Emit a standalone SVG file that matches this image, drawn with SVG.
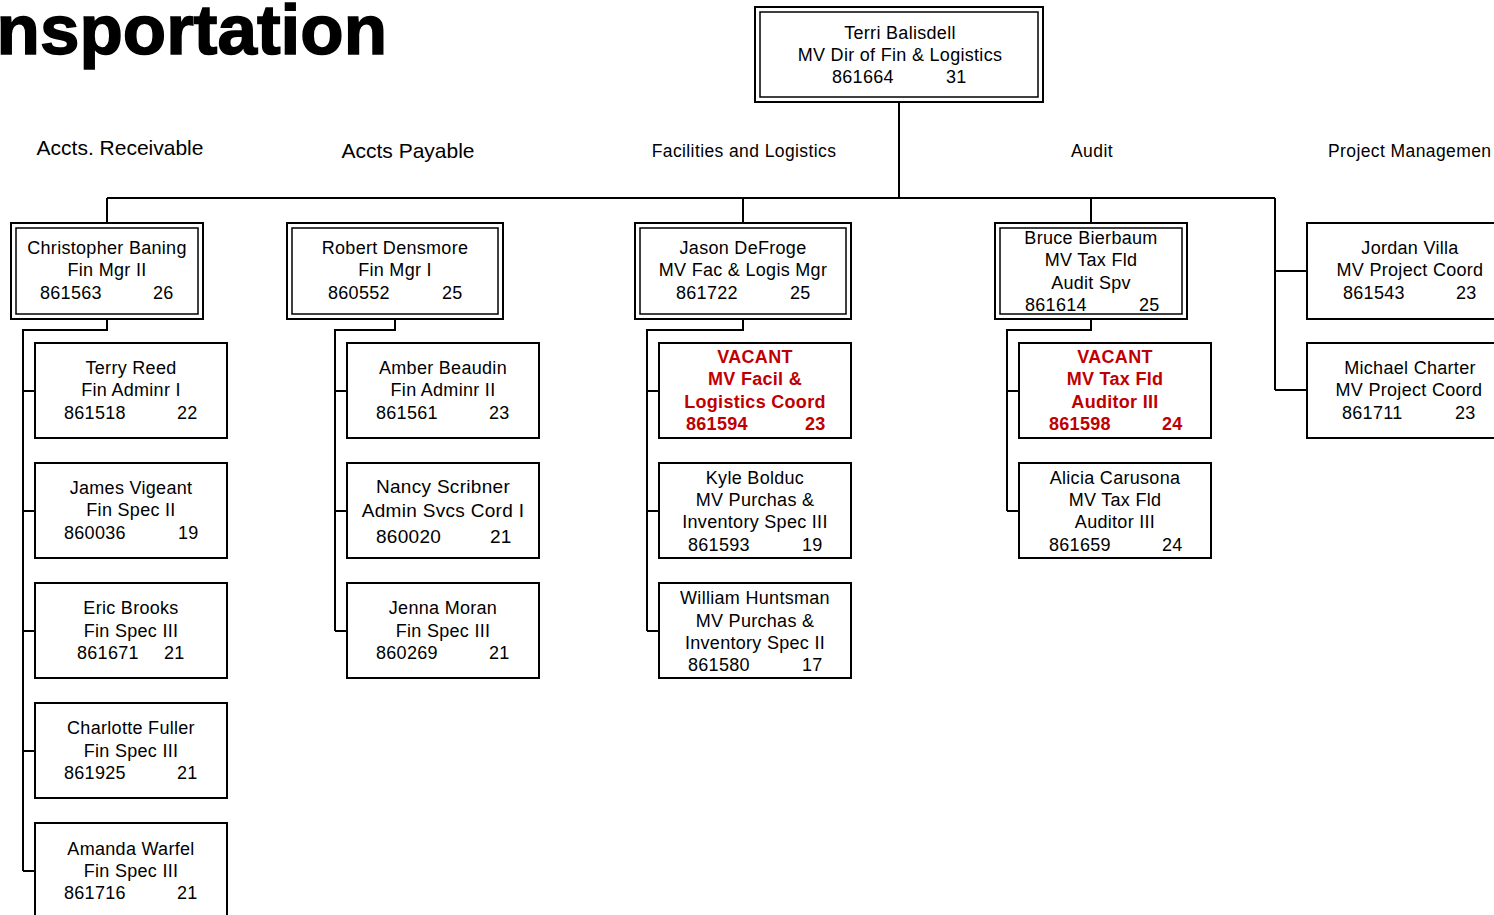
<svg xmlns="http://www.w3.org/2000/svg" width="1494" height="915" viewBox="0 0 1494 915">
<style>
text{font-family:"Liberation Sans",Arial,sans-serif;fill:#000}
.t{font-size:18px;letter-spacing:0.3px;text-anchor:middle}
.n{font-size:18px;letter-spacing:0.3px}
.v{font-size:18px;font-weight:bold;fill:#c00000;letter-spacing:0.3px}
.vc{text-anchor:middle}
.box{fill:#fff;stroke:#000;stroke-width:2}
.inner{fill:none;stroke:#000;stroke-width:1.5}
.hd{font-size:17.5px;letter-spacing:0.4px;text-anchor:middle}
.hb{font-size:21px;text-anchor:middle}
.c{fill:none;stroke:#000;stroke-width:2}
</style>
<rect width="1494" height="915" fill="#fff"/>
<text x="387" y="54" style="font-size:71px;font-weight:bold;text-anchor:end;stroke:#000;stroke-width:1.5">nsportation</text>
<text class="hb" x="120" y="155">Accts. Receivable</text>
<text class="hb" x="408" y="158">Accts Payable</text>
<text class="hd" x="744" y="157">Facilities and Logistics</text>
<text class="hd" x="1092" y="157">Audit</text>
<text class="hd" x="1328" y="157" style="text-anchor:start">Project Managemen</text>
<g id="connectors">
<path class="c" d="M899 102V198M107 198H1275M107 198V222M743 198V222M1091 198V222M1275 198V390M1275 271H1307M1275 390H1307"/>
<path class="c" d="M107 319V330H23V871M23 391H35M23 511H35M23 631H35M23 751H35M23 871H35"/>
<path class="c" d="M395 319V330H335V631M335 391H347M335 511H347M335 631H347"/>
<path class="c" d="M743 319V330H647V631M647 391H659M647 511H659M647 631H659"/>
<path class="c" d="M1091 319V330H1007V511M1007 391H1019M1007 511H1019"/>
</g>
<g id="terri"><rect class="box" x="755" y="7" width="288" height="95"/><rect class="inner" x="760" y="12" width="278" height="85"/>
<text class="t" x="900" y="39">Terri Balisdell</text><text class="t" x="900" y="61">MV Dir of Fin &amp; Logistics</text><text class="n" y="83"><tspan x="832">861664</tspan><tspan x="946">31</tspan></text></g>
<g id="christopher"><rect class="box" x="11" y="223" width="192" height="96"/><rect class="inner" x="16" y="228" width="182" height="86"/>
<text class="t" x="107" y="254">Christopher Baning</text><text class="t" x="107" y="276">Fin Mgr II</text><text class="n" y="299"><tspan x="40">861563</tspan><tspan x="153">26</tspan></text></g>
<g id="terry"><rect class="box" x="35" y="343" width="192" height="95"/>
<text class="t" x="131" y="374">Terry Reed</text><text class="t" x="131" y="396">Fin Adminr I</text><text class="n" y="419"><tspan x="64">861518</tspan><tspan x="177">22</tspan></text></g>
<g id="james"><rect class="box" x="35" y="463" width="192" height="95"/>
<text class="t" x="131" y="494">James Vigeant</text><text class="t" x="131" y="516">Fin Spec II</text><text class="n" y="539"><tspan x="64">860036</tspan><tspan x="178">19</tspan></text></g>
<g id="eric"><rect class="box" x="35" y="583" width="192" height="95"/>
<text class="t" x="131" y="614">Eric Brooks</text><text class="t" x="131" y="637">Fin Spec III</text><text class="n" y="659"><tspan x="77">861671</tspan><tspan x="164">21</tspan></text></g>
<g id="charlotte"><rect class="box" x="35" y="703" width="192" height="95"/>
<text class="t" x="131" y="734">Charlotte Fuller</text><text class="t" x="131" y="757">Fin Spec III</text><text class="n" y="779"><tspan x="64">861925</tspan><tspan x="177">21</tspan></text></g>
<g id="amanda"><rect class="box" x="35" y="823" width="192" height="100"/>
<text class="t" x="131" y="855">Amanda Warfel</text><text class="t" x="131" y="877">Fin Spec III</text><text class="n" y="899"><tspan x="64">861716</tspan><tspan x="177">21</tspan></text></g>
<g id="robert"><rect class="box" x="287" y="223" width="216" height="96"/><rect class="inner" x="292" y="228" width="206" height="86"/>
<text class="t" x="395" y="254">Robert Densmore</text><text class="t" x="395" y="276">Fin Mgr I</text><text class="n" y="299"><tspan x="328">860552</tspan><tspan x="442">25</tspan></text></g>
<g id="amber"><rect class="box" x="347" y="343" width="192" height="95"/>
<text class="t" x="443" y="374">Amber Beaudin</text><text class="t" x="443" y="396">Fin Adminr II</text><text class="n" y="419"><tspan x="376">861561</tspan><tspan x="489">23</tspan></text></g>
<g id="nancy"><rect class="box" x="347" y="463" width="192" height="95"/>
<text class="t" x="443" y="493" style="font-size:19px">Nancy Scribner</text><text class="t" x="443" y="517" style="font-size:19px">Admin Svcs Cord I</text><text class="n" y="543" style="font-size:19px"><tspan x="376">860020</tspan><tspan x="490">21</tspan></text></g>
<g id="jenna"><rect class="box" x="347" y="583" width="192" height="95"/>
<text class="t" x="443" y="614">Jenna Moran</text><text class="t" x="443" y="637">Fin Spec III</text><text class="n" y="659"><tspan x="376">860269</tspan><tspan x="489">21</tspan></text></g>
<g id="jason"><rect class="box" x="635" y="223" width="216" height="96"/><rect class="inner" x="640" y="228" width="206" height="86"/>
<text class="t" x="743" y="254">Jason DeFroge</text><text class="t" x="743" y="276">MV Fac &amp; Logis Mgr</text><text class="n" y="299"><tspan x="676">861722</tspan><tspan x="790">25</tspan></text></g>
<g id="vacant-facil"><rect class="box" x="659" y="343" width="192" height="95"/>
<text class="v vc" x="755" y="363">VACANT</text><text class="v vc" x="755" y="385">MV Facil &amp;</text><text class="v vc" x="755" y="408">Logistics Coord</text><text class="v" y="430"><tspan x="686">861594</tspan><tspan x="805">23</tspan></text></g>
<g id="kyle"><rect class="box" x="659" y="463" width="192" height="95"/>
<text class="t" x="755" y="484">Kyle Bolduc</text><text class="t" x="755" y="506">MV Purchas &amp;</text><text class="t" x="755" y="528">Inventory Spec III</text><text class="n" y="551"><tspan x="688">861593</tspan><tspan x="802">19</tspan></text></g>
<g id="william"><rect class="box" x="659" y="583" width="192" height="95"/>
<text class="t" x="755" y="604">William Huntsman</text><text class="t" x="755" y="627">MV Purchas &amp;</text><text class="t" x="755" y="649">Inventory Spec II</text><text class="n" y="671"><tspan x="688">861580</tspan><tspan x="802">17</tspan></text></g>
<g id="bruce"><rect class="box" x="995" y="223" width="192" height="96"/><rect class="inner" x="1000" y="228" width="182" height="86"/>
<text class="t" x="1091" y="244">Bruce Bierbaum</text><text class="t" x="1091" y="266">MV Tax Fld</text><text class="t" x="1091" y="289">Audit Spv</text><text class="n" y="311"><tspan x="1025">861614</tspan><tspan x="1139">25</tspan></text></g>
<g id="vacant-tax"><rect class="box" x="1019" y="343" width="192" height="95"/>
<text class="v vc" x="1115" y="363">VACANT</text><text class="v vc" x="1115" y="385">MV Tax Fld</text><text class="v vc" x="1115" y="408">Auditor III</text><text class="v" y="430"><tspan x="1049">861598</tspan><tspan x="1162">24</tspan></text></g>
<g id="alicia"><rect class="box" x="1019" y="463" width="192" height="95"/>
<text class="t" x="1115" y="484">Alicia Carusona</text><text class="t" x="1115" y="506">MV Tax Fld</text><text class="t" x="1115" y="528">Auditor III</text><text class="n" y="551"><tspan x="1049">861659</tspan><tspan x="1162">24</tspan></text></g>
<g id="jordan"><rect class="box" x="1307" y="223" width="200" height="96"/>
<text class="t" x="1410" y="254">Jordan Villa</text><text class="t" x="1410" y="276">MV Project Coord</text><text class="n" y="299"><tspan x="1343">861543</tspan><tspan x="1456">23</tspan></text></g>
<g id="michael"><rect class="box" x="1307" y="343" width="200" height="95"/>
<text class="t" x="1410" y="374">Michael Charter</text><text class="t" x="1409" y="396">MV Project Coord</text><text class="n" y="419"><tspan x="1342">861711</tspan><tspan x="1455">23</tspan></text></g>
</svg>
